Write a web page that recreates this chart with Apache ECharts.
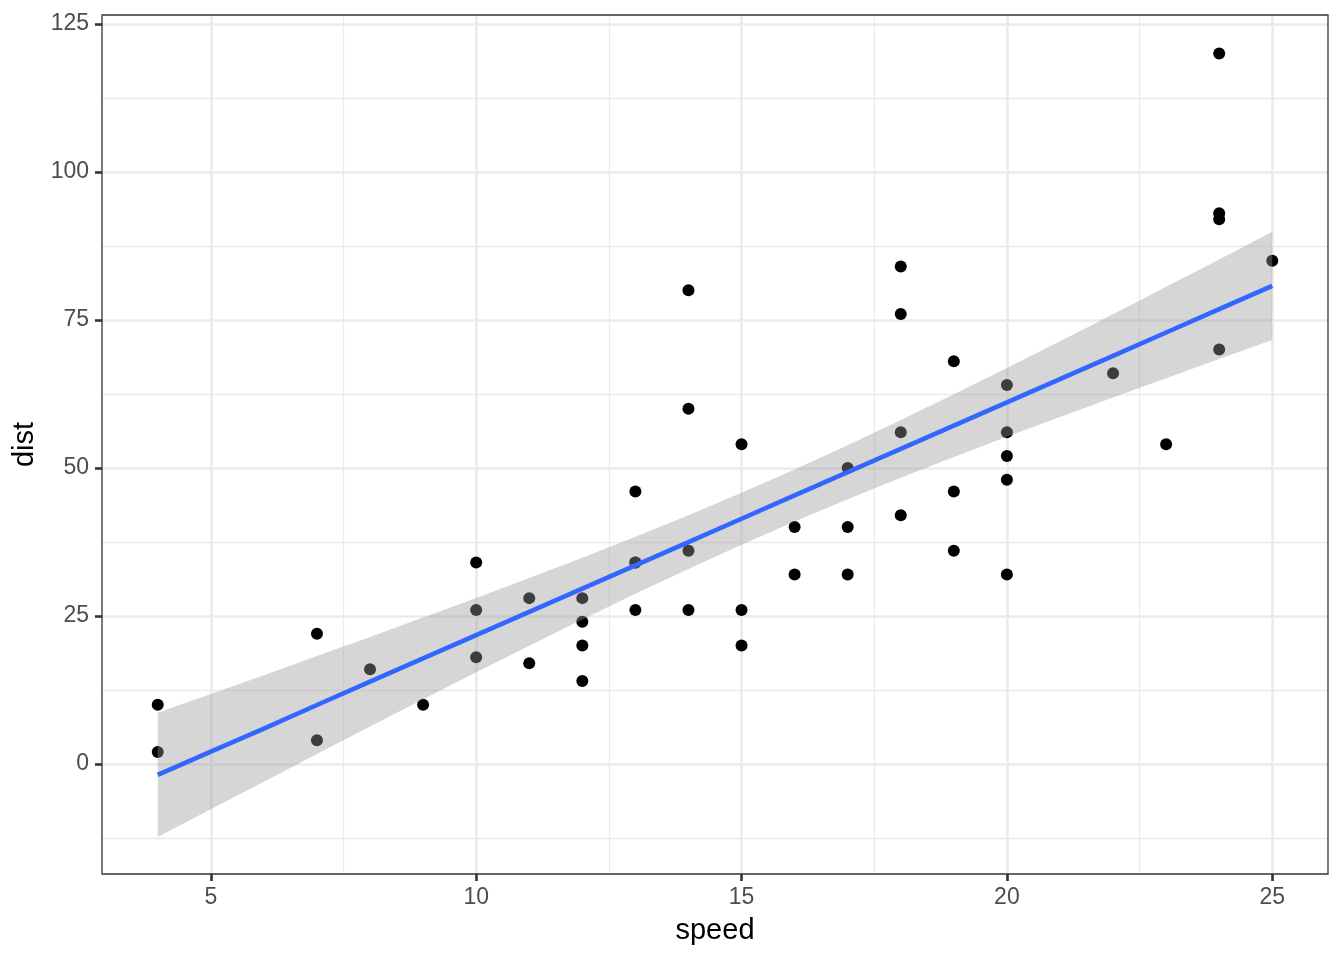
<!DOCTYPE html>
<html>
<head>
<meta charset="utf-8">
<script src="https://cdn.jsdelivr.net/npm/echarts@6/dist/echarts.min.js"></script>
<style>
html,body{margin:0;padding:0;background:#fff;}
#chart{width:1344px;height:960px;}
</style>
</head>
<body>
<div id="chart"></div>
<script>
// Observations (speed, dist)
const speed = [4,4,7,7,8,9,10,10,10,11,11,12,12,12,12,13,13,13,13,14,14,14,14,15,15,15,16,16,17,17,17,18,18,18,18,19,19,19,20,20,20,20,20,22,23,24,24,24,24,25];
const dist  = [2,10,4,22,16,10,18,26,34,17,28,14,20,24,28,26,34,34,46,26,36,60,80,20,26,54,32,40,32,40,50,42,56,76,84,36,46,68,32,48,52,56,64,66,54,70,92,93,120,85];

// Fitted line and confidence band read along speed
const bandX     = [4,5,6,7,8,9,10,11,12,13,14,15,16,17,18,19,20,21,22,23,24,25];
const fitY      = [-1.85,2.08,5.97,9.95,13.88,17.81,21.74,25.68,29.61,33.54,37.47,41.41,45.34,49.27,53.20,57.14,61.07,65.00,68.93,72.87,76.80,80.73];
const bandLower = [-12.33,-7.65,-3.02,1.68,6.31,10.90,15.46,19.97,24.39,28.73,32.94,37.02,40.94,44.70,48.32,51.83,55.25,58.60,61.89,65.16,68.39,71.59];
const bandUpper = [8.63,11.81,14.96,18.22,21.45,24.72,28.02,31.39,34.83,38.35,42.00,45.80,49.74,53.84,58.08,62.45,66.89,71.40,75.97,80.58,85.21,89.87];

// Axis ticks
const xTicks = [5,10,15,20,25];
const xMinor = [7.5,12.5,17.5,22.5];
const yTicks = [0,25,50,75,100,125];
const yMinor = [-12.5,12.5,37.5,62.5,87.5,112.5];

const points = speed.map((s,i)=>[s,dist[i]]);
const fitLine = bandX.map((x,i)=>[x,fitY[i]]);

const gridLines = [];
xMinor.forEach(v=>gridLines.push({xAxis:v, lineStyle:{color:'#EBEBEB', width:1.3, type:'solid'}}));
yMinor.forEach(v=>gridLines.push({yAxis:v, lineStyle:{color:'#EBEBEB', width:1.3, type:'solid'}}));
xTicks.forEach(v=>gridLines.push({xAxis:v, lineStyle:{color:'#EBEBEB', width:2.6, type:'solid'}}));
yTicks.forEach(v=>gridLines.push({yAxis:v, lineStyle:{color:'#EBEBEB', width:2.6, type:'solid'}}));

const FONT = 'Liberation Sans, Arial, sans-serif';
const chart = echarts.init(document.getElementById('chart'));
chart.setOption({
  animation:false,
  backgroundColor:'#ffffff',
  textStyle:{fontFamily:FONT},
  grid:{left:102, top:15, right:16, bottom:86, show:true, borderColor:'#333333', borderWidth:1.3, backgroundColor:'transparent', z:10},
  xAxis:{
    type:'value', min:2.95, max:26.05,
    name:'speed', nameLocation:'middle', nameGap:42,
    nameTextStyle:{color:'#000', fontSize:29, fontFamily:FONT},
    axisLine:{show:false, onZero:false},
    axisTick:{show:true, length:7, lineStyle:{color:'#333333', width:2.6}, customValues:xTicks},
    axisLabel:{color:'#4D4D4D', fontSize:23, margin:12, customValues:xTicks, fontFamily:FONT},
    splitLine:{show:false}
  },
  yAxis:{
    type:'value', min:-18.6, max:126.5,
    name:'dist', nameLocation:'middle', nameGap:61, nameRotate:90,
    nameTextStyle:{color:'#000', fontSize:29, fontFamily:FONT},
    axisLine:{show:false, onZero:false},
    axisTick:{show:true, length:7, lineStyle:{color:'#333333', width:2.6}, customValues:yTicks},
    axisLabel:{color:'#4D4D4D', fontSize:23, margin:13, customValues:yTicks, fontFamily:FONT},
    splitLine:{show:false}
  },
  series:[
    {
      type:'line', data:[], z:0, silent:true,
      markLine:{z:0, silent:true, symbol:['none','none'], label:{show:false}, animation:false, data:gridLines}
    },
    {
      type:'scatter', data:points, symbol:'circle', symbolSize:12, z:2,
      itemStyle:{color:'#000000', opacity:1}
    },
    {
      type:'custom', z:3, silent:true,
      data:[[bandX[0], bandLower[0]]],
      renderItem:function(params, api){
        const pts=[];
        for(let i=0;i<bandX.length;i++) pts.push(api.coord([bandX[i], bandUpper[i]]));
        for(let i=bandX.length-1;i>=0;i--) pts.push(api.coord([bandX[i], bandLower[i]]));
        return {type:'polygon', shape:{points:pts}, style:{fill:'rgba(153,153,153,0.4)'}};
      }
    },
    {
      type:'line', data:fitLine, z:4, symbol:'none', showSymbol:false,
      lineStyle:{color:'#3366FF', width:4.6, cap:'butt'}
    }
  ]
});
</script>
</body>
</html>
